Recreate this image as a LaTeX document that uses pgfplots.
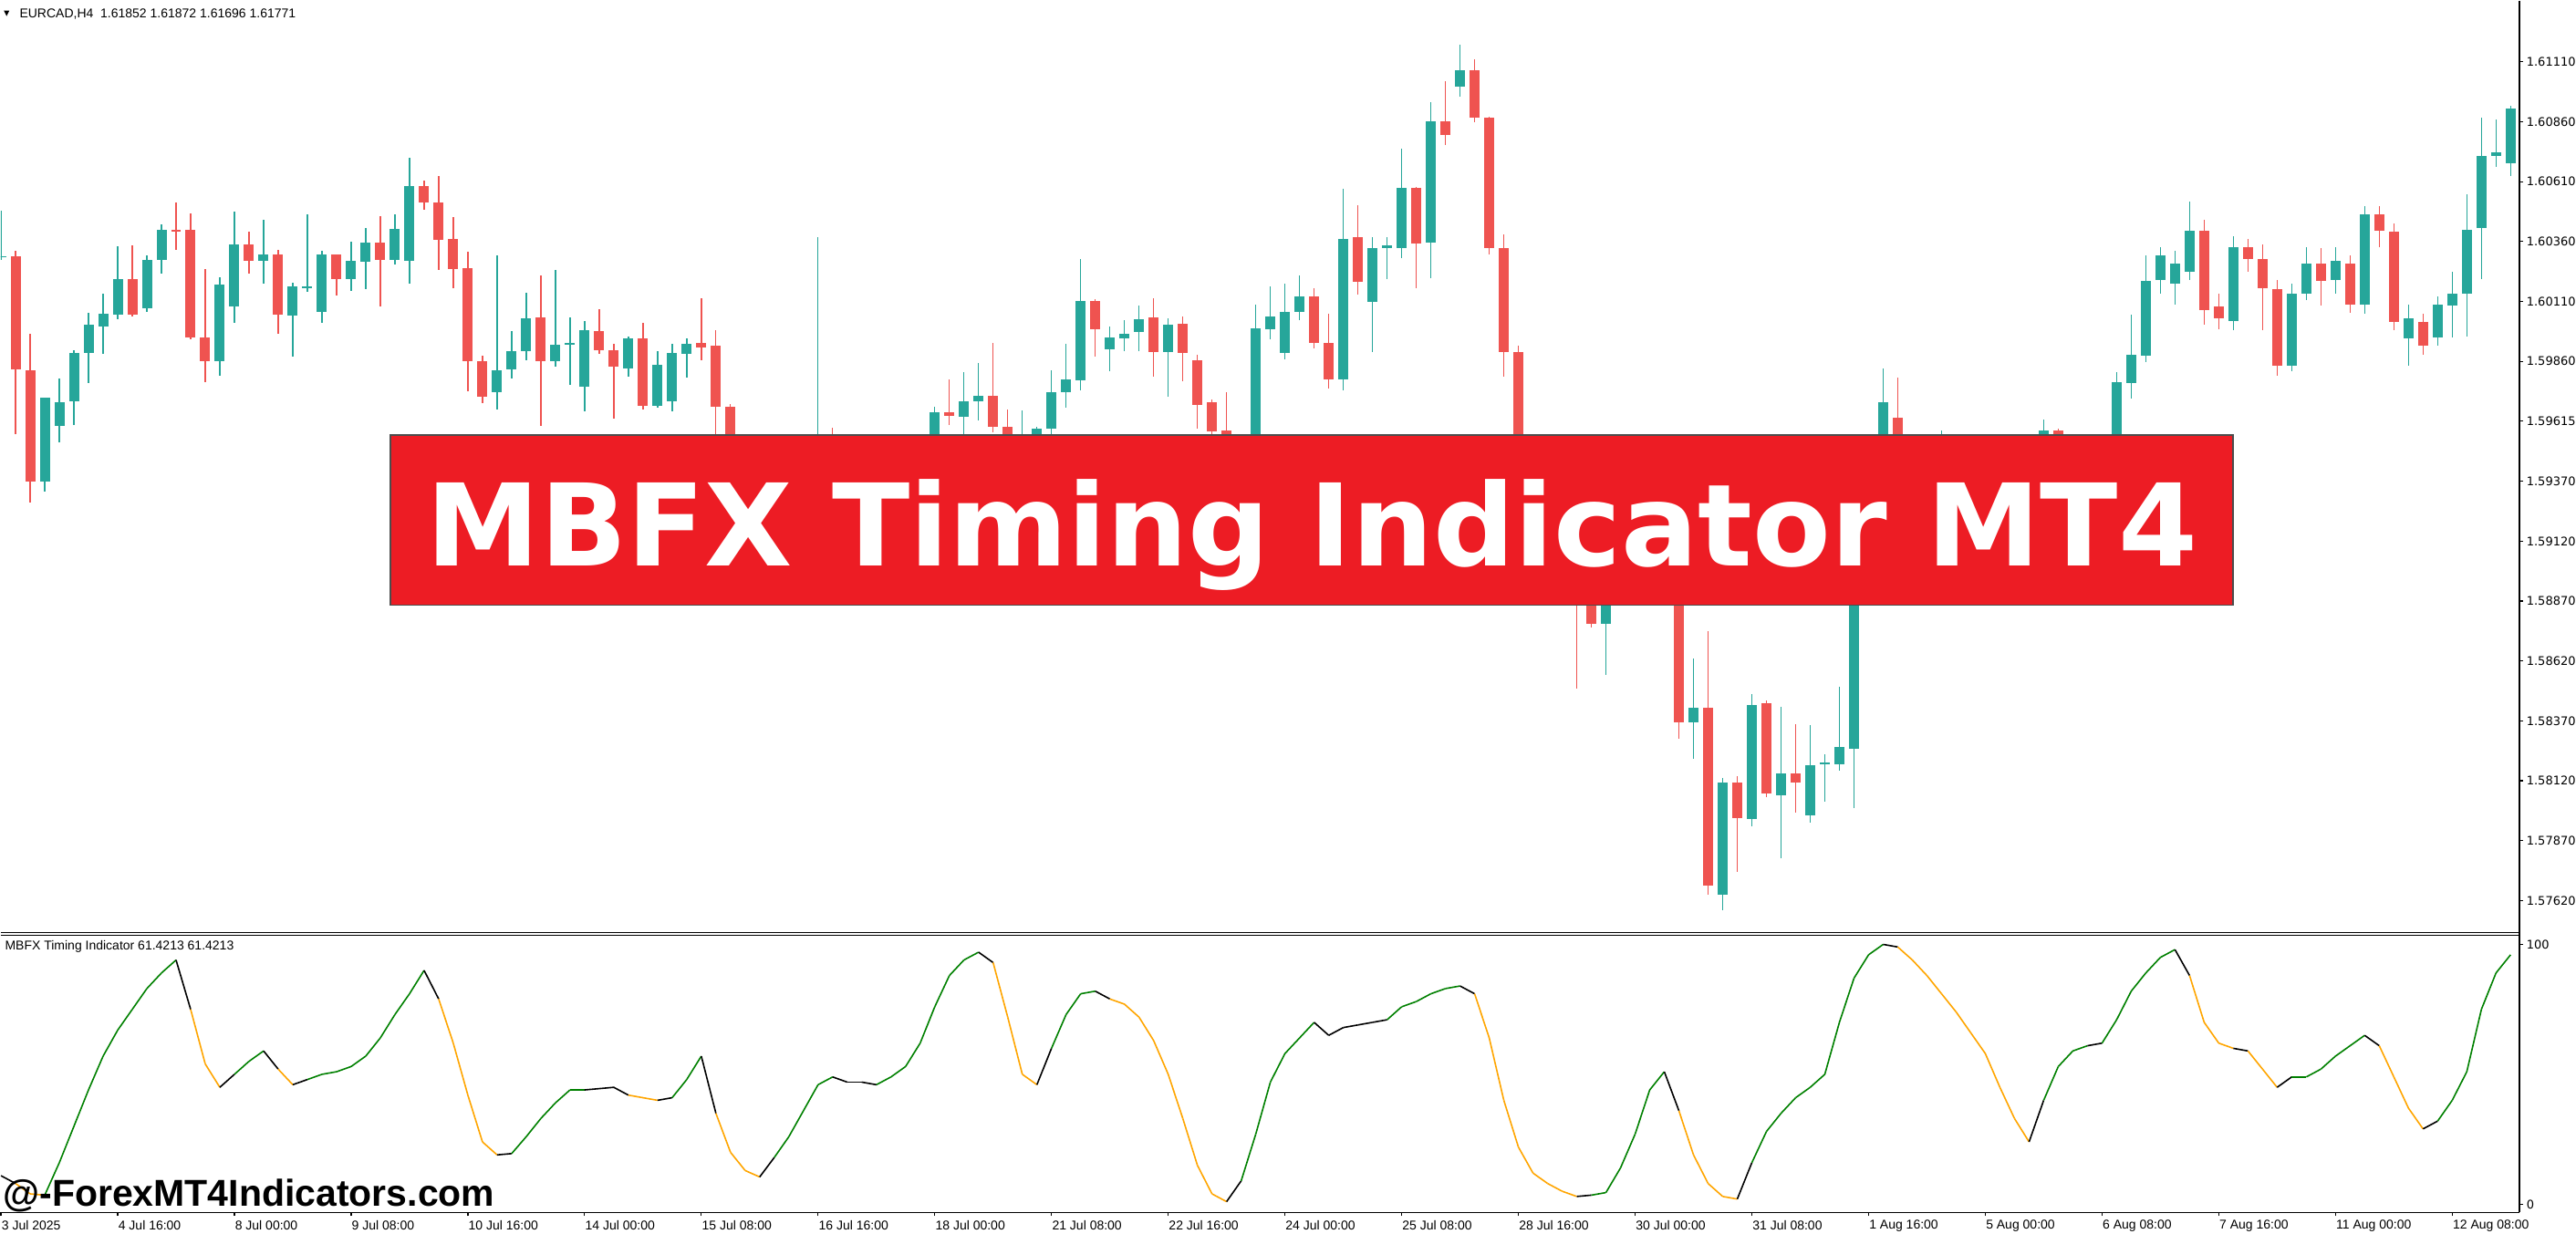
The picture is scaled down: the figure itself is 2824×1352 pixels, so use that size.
\documentclass[border=0pt]{standalone}
\usepackage{pgfplots}
\pgfplotsset{compat=1.18}
\usepackage{pgfplotstable}
\usepackage{fontspec}
\setmainfont{Liberation Sans}
\newfontfamily\djv{DejaVu Sans}
\definecolor{cup}{HTML}{26A69A}
\definecolor{cdn}{HTML}{EF5350}
\definecolor{ban}{HTML}{ED1C24}

\pgfplotstableread{
i o h l c
0 1.60299 1.60492 1.60287 1.60301
3 1.59364 1.59713 1.59324 1.59713
4 1.59597 1.59792 1.59529 1.59694
5 1.59697 1.59910 1.59601 1.59899
6 1.59901 1.60066 1.59776 1.60017
7 1.60010 1.60145 1.59894 1.60062
8 1.60059 1.60343 1.60038 1.60206
10 1.60085 1.60306 1.60069 1.60285
11 1.60287 1.60434 1.60229 1.60411
15 1.59864 1.60213 1.59803 1.60183
16 1.60092 1.60487 1.60024 1.60350
18 1.60283 1.60452 1.60187 1.60308
20 1.60057 1.60194 1.59883 1.60176
21 1.60171 1.60476 1.60152 1.60176
22 1.60071 1.60324 1.60024 1.60308
24 1.60206 1.60362 1.60157 1.60283
25 1.60278 1.60420 1.60166 1.60359
27 1.60285 1.60476 1.60266 1.60415
28 1.60280 1.60711 1.60185 1.60594
34 1.59738 1.60306 1.59662 1.59829
35 1.59831 1.59990 1.59792 1.59906
36 1.59906 1.60150 1.59869 1.60043
38 1.59864 1.60245 1.59841 1.59934
39 1.59934 1.60048 1.59764 1.59941
40 1.59757 1.60031 1.59657 1.59994
43 1.59836 1.59966 1.59799 1.59959
45 1.59678 1.59906 1.59671 1.59850
46 1.59697 1.59936 1.59655 1.59899
47 1.59896 1.59959 1.59797 1.59936
53 1.59300 1.59400 1.59260 1.59350
54 1.59350 1.59470 1.59320 1.59420
56 1.59390 1.60380 1.59360 1.59480
58 1.59440 1.59530 1.59400 1.59490
60 1.59450 1.59540 1.59420 1.59500
61 1.59500 1.59550 1.59460 1.59530
63 1.59510 1.59550 1.59480 1.59540
64 1.59540 1.59676 1.59520 1.59652
66 1.59636 1.59820 1.59555 1.59699
67 1.59697 1.59857 1.59617 1.59720
70 1.59500 1.59659 1.59470 1.59540
71 1.59540 1.59592 1.59500 1.59583
72 1.59585 1.59827 1.59555 1.59736
73 1.59734 1.59936 1.59673 1.59789
74 1.59787 1.60290 1.59745 1.60115
76 1.59915 1.60008 1.59822 1.59962
77 1.59962 1.60036 1.59906 1.59980
78 1.59985 1.60096 1.59906 1.60038
80 1.59903 1.60043 1.59717 1.60017
85 1.59420 1.59500 1.59350 1.59460
86 1.59460 1.60099 1.59430 1.60001
87 1.59999 1.60176 1.59955 1.60050
88 1.59899 1.60187 1.59873 1.60069
89 1.60069 1.60222 1.60038 1.60134
92 1.59789 1.60583 1.59743 1.60373
94 1.60113 1.60380 1.59903 1.60336
95 1.60334 1.60380 1.60206 1.60348
96 1.60338 1.60750 1.60294 1.60587
98 1.60357 1.60943 1.60210 1.60864
100 1.61006 1.61183 1.60964 1.61076
107 1.59000 1.59120 1.58900 1.59050
110 1.58771 1.59050 1.58561 1.59000
111 1.59000 1.59150 1.58950 1.59050
112 1.59050 1.59200 1.59000 1.59100
116 1.58361 1.58629 1.58212 1.58422
118 1.57645 1.58129 1.57580 1.58110
120 1.57959 1.58478 1.57929 1.58436
122 1.58061 1.58427 1.57796 1.58152
124 1.57975 1.58352 1.57947 1.58182
125 1.58187 1.58231 1.58033 1.58194
126 1.58187 1.58513 1.58164 1.58261
127 1.58252 1.59150 1.58006 1.59100
128 1.59100 1.59560 1.59050 1.59500
129 1.59500 1.59834 1.59450 1.59694
132 1.59350 1.59480 1.59300 1.59400
133 1.59400 1.59576 1.59350 1.59500
138 1.59150 1.59250 1.59100 1.59200
139 1.59200 1.59350 1.59150 1.59300
140 1.59300 1.59624 1.59250 1.59576
142 1.59450 1.59540 1.59400 1.59500
144 1.59480 1.59556 1.59440 1.59530
145 1.59530 1.59820 1.59500 1.59778
146 1.59776 1.60059 1.59708 1.59892
147 1.59890 1.60304 1.59860 1.60199
148 1.60201 1.60338 1.60146 1.60304
149 1.60188 1.60324 1.60099 1.60270
150 1.60235 1.60530 1.60201 1.60406
153 1.60030 1.60386 1.59996 1.60338
157 1.59846 1.60188 1.59825 1.60146
158 1.60146 1.60338 1.60119 1.60270
160 1.60201 1.60338 1.60146 1.60283
162 1.60099 1.60509 1.60064 1.60475
165 1.59962 1.60099 1.59846 1.60044
167 1.59962 1.60133 1.59928 1.60099
168 1.60099 1.60235 1.59962 1.60146
169 1.60146 1.60558 1.59968 1.60411
170 1.60419 1.60877 1.60207 1.60720
171 1.60720 1.60870 1.60674 1.60736
172 1.60689 1.60926 1.60635 1.60915
}\up

\pgfplotstableread{
i o h l c
1 1.60301 1.60324 1.59562 1.59829
2 1.59827 1.59978 1.59278 1.59364
9 1.60206 1.60348 1.60050 1.60059
12 1.60411 1.60524 1.60327 1.60406
13 1.60411 1.60480 1.59955 1.59964
14 1.59964 1.60248 1.59778 1.59864
17 1.60350 1.60404 1.60229 1.60283
19 1.60308 1.60327 1.59978 1.60057
23 1.60308 1.60308 1.60138 1.60206
26 1.60359 1.60469 1.60092 1.60287
29 1.60594 1.60618 1.60497 1.60527
30 1.60525 1.60636 1.60243 1.60369
31 1.60373 1.60464 1.60166 1.60250
32 1.60252 1.60320 1.59741 1.59864
33 1.59864 1.59887 1.59690 1.59717
37 1.60048 1.60222 1.59597 1.59864
41 1.59990 1.60080 1.59894 1.59908
42 1.59910 1.59936 1.59624 1.59841
44 1.59959 1.60024 1.59664 1.59678
48 1.59941 1.60127 1.59869 1.59920
49 1.59929 1.59994 1.59500 1.59678
50 1.59676 1.59685 1.59420 1.59480
51 1.59480 1.59520 1.59320 1.59380
52 1.59380 1.59430 1.59250 1.59300
55 1.59420 1.59480 1.59350 1.59390
57 1.59480 1.59587 1.59400 1.59440
59 1.59490 1.59530 1.59410 1.59450
62 1.59530 1.59550 1.59470 1.59510
65 1.59650 1.59789 1.59601 1.59638
68 1.59720 1.59943 1.59571 1.59592
69 1.59592 1.59664 1.59460 1.59500
75 1.60115 1.60122 1.59885 1.59999
79 1.60048 1.60127 1.59799 1.59903
81 1.60020 1.60050 1.59780 1.59899
82 1.59869 1.59890 1.59585 1.59685
83 1.59694 1.59706 1.59540 1.59573
84 1.59576 1.59738 1.59380 1.59420
90 1.60134 1.60169 1.59920 1.59941
91 1.59943 1.60062 1.59750 1.59789
93 1.60380 1.60513 1.60141 1.60194
97 1.60587 1.60590 1.60169 1.60357
99 1.60864 1.61032 1.60766 1.60806
101 1.61076 1.61122 1.60859 1.60878
102 1.60878 1.60883 1.60308 1.60336
103 1.60336 1.60392 1.59801 1.59903
104 1.59903 1.59929 1.59250 1.59300
105 1.59300 1.59350 1.59050 1.59100
106 1.59100 1.59150 1.58920 1.59000
108 1.59050 1.59100 1.58503 1.58900
109 1.58900 1.58950 1.58757 1.58771
113 1.59100 1.59150 1.58950 1.59000
114 1.59000 1.59100 1.58900 1.58950
115 1.58950 1.59000 1.58292 1.58361
117 1.58424 1.58743 1.57647 1.57682
119 1.58110 1.58136 1.57740 1.57964
121 1.58440 1.58452 1.58050 1.58064
123 1.58152 1.58357 1.57987 1.58113
130 1.59629 1.59797 1.59400 1.59450
131 1.59450 1.59500 1.59300 1.59350
134 1.59500 1.59540 1.59400 1.59450
135 1.59450 1.59500 1.59300 1.59350
136 1.59350 1.59400 1.59200 1.59250
137 1.59250 1.59300 1.59100 1.59150
141 1.59576 1.59583 1.59400 1.59450
143 1.59500 1.59550 1.59420 1.59480
151 1.60406 1.60454 1.60017 1.60078
152 1.60092 1.60146 1.59996 1.60044
154 1.60338 1.60372 1.60235 1.60290
155 1.60290 1.60352 1.59996 1.60167
156 1.60167 1.60201 1.59804 1.59846
159 1.60270 1.60338 1.60099 1.60201
161 1.60270 1.60304 1.60064 1.60099
163 1.60475 1.60509 1.60338 1.60406
164 1.60406 1.60440 1.59996 1.60030
166 1.60030 1.60064 1.59893 1.59928
}\down

\pgfplotstableread{
i v c
0 11 1
1 8 0
2 4 0
3 3.5 2
4 16 2
5 30 2
6 44 2
7 57 2
8 67 2
9 75 2
10 83 2
11 89 2
12 94 1
13 75 0
14 54 0
15 45 1
16 50 2
17 55 2
18 59 1
19 52 0
20 46 1
21 48 2
22 50 2
23 51 2
24 53 2
25 57 2
26 64 2
27 73 2
28 81 2
29 90 1
30 79 0
31 62 0
32 42 0
33 24 0
34 19 1
35 19.5 2
36 26 2
37 33 2
38 39 2
39 44 2
40 44 1
41 44.5 1
42 45 1
43 42 0
44 41 0
45 40 1
46 41 2
47 48 2
48 57 1
49 35 0
50 20 0
51 13 0
52 10.5 1
53 18 2
54 26 2
55 36 2
56 46 2
57 49 1
58 47 1
59 47 1
60 46 2
61 49 2
62 53 2
63 62 2
64 76 2
65 88 2
66 94 2
67 97 1
68 93 0
69 72 0
70 50 0
71 46 1
72 60 2
73 73 2
74 81 2
75 82 1
76 79 0
77 77 0
78 72 0
79 63 0
80 50 0
81 33 0
82 15 0
83 4 0
84 1 1
85 9 2
86 27 2
87 47 2
88 58 2
89 64 2
90 70 1
91 65 1
92 68 1
93 69 1
94 70 1
95 71 2
96 76 2
97 78 2
98 81 2
99 83 2
100 84 1
101 81 0
102 64 0
103 40 0
104 22 0
105 12 0
106 8 0
107 5 0
108 3 1
109 3.5 2
110 4.5 2
111 14 2
112 27 2
113 44 2
114 51 1
115 36 0
116 19 0
117 8 0
118 3 0
119 2 1
120 16 2
121 28 2
122 35 2
123 41 2
124 45 2
125 50 2
126 70 2
127 87 2
128 96 2
129 100 1
130 99 0
131 94 0
132 88 0
133 81 0
134 74 0
135 66 0
136 58 0
137 45 0
138 33 0
139 24 1
140 40 2
141 53 2
142 59 2
143 61 1
144 62 2
145 71 2
146 82 2
147 89 2
148 95 2
149 98 1
150 88 0
151 70 0
152 62 0
153 60 1
154 59 0
155 52 0
156 45 1
157 49 2
158 49 2
159 52 2
160 57 2
161 61 2
162 65 1
163 61 0
164 49 0
165 37 0
166 29 1
167 32 2
168 40 2
169 51 2
170 75 2
171 89 2
172 96 2
}\ind

\pgfplotsset{
  mt/.style={scale only axis, width=690.5pt, xmin=-0.019, xmax=172.61,
    axis line style={draw=none}, tick align=outside, major tick length=1pt,
    tick style={black, line width=0.3pt},
    ytick pos=right, yticklabel pos=right,
    yticklabel style={font=\djv\fontsize{3.25pt}{4pt}\selectfont, anchor=west, inner sep=0pt, xshift=0.75pt},
    clip=true},
  wick/.style={draw=none, mark=none, forget plot, error bars/.cd, y dir=both, y explicit, error mark=none,
    error bar style={draw=#1, line width=0.33pt}},
  body/.style={draw=none, mark=none, forget plot, error bars/.cd, y dir=both, y explicit, error mark=none,
    error bar style={draw=#1, line width=2.75pt}},
}

\begin{document}
\begin{tikzpicture}
\begin{scope}[x=0.25pt,y=-0.25pt]
\useasboundingbox (0,0) rectangle (2824,1352);
\end{scope}

\begin{axis}[mt, at={(0pt,0pt)}, anchor=north west, height=255.5pt,
  ymin=1.574872, ymax=1.613642, xtick=\empty,
  ytick={1.611100,1.608607,1.606114,1.603621,1.601129,1.598636,1.596143,1.593650,1.591157,1.588664,1.586171,1.583679,1.581186,1.578693,1.576200},
  yticklabels={1.61110,1.60860,1.60610,1.60360,1.60110,1.59860,1.59615,1.59370,1.59120,1.58870,1.58620,1.58370,1.58120,1.57870,1.57620}]
\addplot[wick=cup] table[x=i, y expr={(\thisrow{h}+\thisrow{l})/2}, y error expr={(\thisrow{h}-\thisrow{l})/2}] {\up};
\addplot[wick=cdn] table[x=i, y expr={(\thisrow{h}+\thisrow{l})/2}, y error expr={(\thisrow{h}-\thisrow{l})/2}] {\down};
\addplot[body=cup] table[x=i, y expr={(\thisrow{o}+\thisrow{c})/2}, y error expr={max(abs(\thisrow{c}-\thisrow{o})/2,0.000019)}] {\up};
\addplot[body=cdn] table[x=i, y expr={(\thisrow{o}+\thisrow{c})/2}, y error expr={max(abs(\thisrow{c}-\thisrow{o})/2,0.000019)}] {\down};
\end{axis}

\begin{axis}[mt, at={(0pt,-256.25pt)}, anchor=north west, height=76pt,
  ymin=-3.16, ymax=103.51, ytick={0,100}, yticklabels={0,100},
  xtick={0,8,...,168}, xtick pos=left, xticklabel pos=left,
  xticklabels={3 Jul 2025,4 Jul 16:00,8 Jul 00:00,9 Jul 08:00,10 Jul 16:00,14 Jul 00:00,15 Jul 08:00,16 Jul 16:00,18 Jul 00:00,21 Jul 08:00,22 Jul 16:00,24 Jul 00:00,25 Jul 08:00,28 Jul 16:00,30 Jul 00:00,31 Jul 08:00,1 Aug 16:00,5 Aug 00:00,6 Aug 08:00,7 Aug 16:00,11 Aug 00:00,12 Aug 08:00},
  xticklabel style={font=\fontsize{3.5pt}{4pt}\selectfont, anchor=north west, inner sep=0pt, yshift=-1pt}]
\addplot[mesh, shader=flat corner, line width=0.4pt, point meta=explicit, colormap access=direct,
  colormap={mbfx}{rgb255=(255,165,0) rgb255=(0,0,0) rgb255=(0,128,0)}]
  table[x=i, y=v, meta=c] {\ind};
\end{axis}

\begin{scope}[x=0.25pt,y=-0.25pt]
\draw[line width=0.375pt] (2762,0) -- (2762,1329);
\draw[line width=0.375pt] (0,1022) -- (2762,1022);
\draw[line width=0.375pt] (0,1025) -- (2762,1025);
\draw[line width=0.375pt] (0,1329) -- (2762,1329);
\fill[black] (3.5,11) -- (9.5,11) -- (6.5,17) -- cycle;
\node[anchor=west, inner sep=0pt, font=\fontsize{3.5pt}{4pt}\selectfont] at (20,15) {EURCAD,H4\ \ 1.61852 1.61872 1.61696 1.61771};
\node[anchor=west, inner sep=0pt, font=\fontsize{3.5pt}{4pt}\selectfont] at (4,1037) {MBFX Timing Indicator 61.4213 61.4213};
\fill[ban, draw=black!70, line width=0.45pt] (427,476) rectangle (2448,663);
\node[anchor=base, inner sep=0pt, text=white, font=\djv\bfseries\fontsize{31.25pt}{36pt}\selectfont] at (1438,620) {MBFX Timing Indicator MT4};
\node[anchor=base west, inner sep=0pt, font=\bfseries\fontsize{10.25pt}{12pt}\selectfont] at (2,1322) {@-ForexMT4Indicators.com};
\end{scope}
\end{tikzpicture}
\end{document}
